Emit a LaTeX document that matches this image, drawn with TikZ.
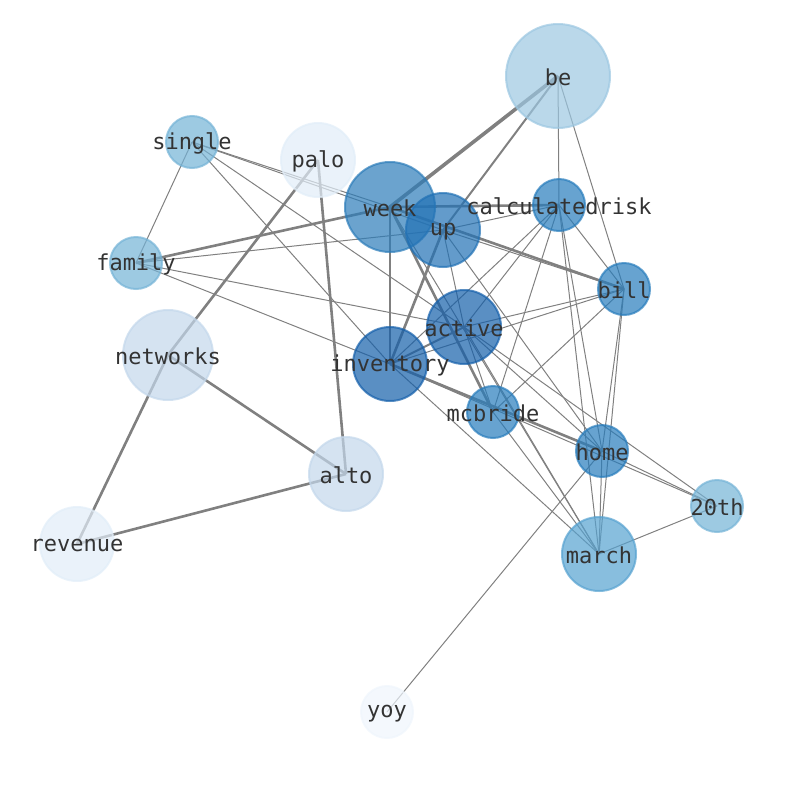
\documentclass[tikz,border=0pt]{standalone}
\usepackage{fontspec}
\setmainfont{DejaVu Sans Mono}
\pgfdeclarelayer{bg}
\pgfsetlayers{bg,main}
\definecolor{cBe}{RGB}{156,199,225}
\definecolor{cWeek}{RGB}{44,124,185}
\definecolor{cUp}{RGB}{33,113,181}
\definecolor{cAct}{RGB}{20,95,170}
\definecolor{cMid}{RGB}{39,124,188}
\definecolor{cMarch}{RGB}{86,162,208}
\definecolor{cSmall}{RGB}{116,179,214}
\definecolor{cNet}{RGB}{195,215,235}
\definecolor{cPalo}{RGB}{225,237,248}
\definecolor{cYoy}{RGB}{239,245,252}
\definecolor{edgegray}{RGB}{128,128,128}
\definecolor{labgray}{RGB}{51,51,51}
\tikzset{
  vtx/.style={circle, inner sep=0pt, fill opacity=0.7, draw opacity=0.7, line width=2pt},
  lab/.style={text=labgray, inner sep=0pt, yshift=-1.5pt, font=\fontsize{22}{26}\selectfont},
  ea/.style={draw=edgegray, line width=1pt},
  eb/.style={draw=edgegray, line width=2pt},
  ec/.style={draw=edgegray, line width=2.6pt},
  ed/.style={draw=edgegray, line width=3.6pt}
}
\begin{document}
\begin{tikzpicture}[x=1pt,y=-1pt]
\useasboundingbox (0,0) rectangle (794,790);
% nodes
\node[vtx, fill=cBe, draw=cBe, minimum size=104pt] (be) at (558,76) {};
\node[vtx, fill=cSmall, draw=cSmall, minimum size=52pt] (single) at (192,142) {};
\node[vtx, fill=cPalo, draw=cPalo, minimum size=74pt] (palo) at (318,160) {};
\node[vtx, fill=cWeek, draw=cWeek, minimum size=90pt] (week) at (390,207) {};
\node[vtx, fill=cUp, draw=cUp, minimum size=74pt] (up) at (443,230) {};
\node[vtx, fill=cMid, draw=cMid, minimum size=52pt] (calc) at (559,205) {};
\node[vtx, fill=cSmall, draw=cSmall, minimum size=52pt] (family) at (136,263) {};
\node[vtx, fill=cMid, draw=cMid, minimum size=52pt] (bill) at (624,289) {};
\node[vtx, fill=cAct, draw=cAct, minimum size=74pt] (active) at (464,327) {};
\node[vtx, fill=cNet, draw=cNet, minimum size=90pt] (networks) at (168,355) {};
\node[vtx, fill=cAct, draw=cAct, minimum size=74pt] (inventory) at (390,364) {};
\node[vtx, fill=cMid, draw=cMid, minimum size=52pt] (mcbride) at (493,412) {};
\node[vtx, fill=cMid, draw=cMid, minimum size=52pt] (home) at (602,451) {};
\node[vtx, fill=cNet, draw=cNet, minimum size=74pt] (alto) at (346,474) {};
\node[vtx, fill=cSmall, draw=cSmall, minimum size=52pt] (twentieth) at (717,506) {};
\node[vtx, fill=cMarch, draw=cMarch, minimum size=74pt] (march) at (599,554) {};
\node[vtx, fill=cPalo, draw=cPalo, minimum size=74pt] (revenue) at (77,544) {};
\node[vtx, fill=cYoy, draw=cYoy, minimum size=52pt] (yoy) at (387,712) {};
% labels
\node[lab] (be-l) at (be) {be};
\node[lab] (single-l) at (single) {single};
\node[lab] (palo-l) at (palo) {palo};
\node[lab] (week-l) at (week) {week};
\node[lab] (up-l) at (up) {up};
\node[lab] (calc-l) at (calc) {calculatedrisk};
\node[lab] (family-l) at (family) {family};
\node[lab] (bill-l) at (bill) {bill};
\node[lab] (active-l) at (active) {active};
\node[lab] (networks-l) at (networks) {networks};
\node[lab] (inventory-l) at (inventory) {inventory};
\node[lab] (mcbride-l) at (mcbride) {mcbride};
\node[lab] (home-l) at (home) {home};
\node[lab] (alto-l) at (alto) {alto};
\node[lab] (twentieth-l) at (twentieth) {20th};
\node[lab] (march-l) at (march) {march};
\node[lab] (revenue-l) at (revenue) {revenue};
\node[lab] (yoy-l) at (yoy) {yoy};
% edges
\begin{pgfonlayer}{bg}
\draw[ed] (be.center) -- (week.center);
\draw[eb] (be.center) -- (up.center);
\draw[ea] (be.center) -- (calc.center);
\draw[ea] (be.center) -- (bill.center);
\draw[ea] (single.center) -- (family.center);
\draw[ea] (single.center) -- (week.center);
\draw[ea] (single.center) -- (up.center);
\draw[ea] (single.center) -- (inventory.center);
\draw[ea] (single.center) -- (active.center);
\draw[ec] (family.center) -- (week.center);
\draw[ea] (family.center) -- (up.center);
\draw[ea] (family.center) -- (active.center);
\draw[ea] (family.center) -- (inventory.center);
\draw[ec] (palo.center) -- (networks.center);
\draw[ec] (palo.center) -- (alto.center);
\draw[ec] (networks.center) -- (revenue.center);
\draw[ec] (networks.center) -- (alto.center);
\draw[ec] (alto.center) -- (revenue.center);
\draw[ec] (week.center) -- (calc.center);
\draw[eb] (week.center) -- (inventory.center);
\draw[ec] (week.center) -- (mcbride.center);
\draw[ec] (week.center) -- (bill.center);
\draw[ea] (week.center) -- (march.center);
\draw[ea] (up.center) -- (bill.center);
\draw[ec] (up.center) -- (inventory.center);
\draw[ea] (up.center) -- (calc.center);
\draw[ea] (up.center) -- (home.center);
\draw[ea] (up.center) -- (active.center);
\draw[ea] (calc.center) -- (active.center);
\draw[ea] (calc.center) -- (inventory.center);
\draw[ea] (calc.center) -- (mcbride.center);
\draw[ea] (calc.center) -- (home.center);
\draw[ea] (calc.center) -- (bill.center);
\draw[ea] (calc.center) -- (march.center);
\draw[ea] (bill.center) -- (active.center);
\draw[ea] (bill.center) -- (inventory.center);
\draw[ea] (bill.center) -- (mcbride.center);
\draw[ea] (bill.center) -- (home.center);
\draw[ea] (bill.center) -- (march.center);
\draw[eb] (active.center) -- (inventory.center);
\draw[ea] (active.center) -- (mcbride.center);
\draw[ea] (active.center) -- (home.center);
\draw[ea] (active.center) -- (twentieth.center);
\draw[ea] (active.center) -- (march.center);
\draw[ec] (inventory.center) -- (home.center);
\draw[ea] (inventory.center) -- (twentieth.center);
\draw[ea] (inventory.center) -- (march.center);
\draw[ea] (mcbride.center) -- (march.center);
\draw[ea] (home.center) -- (twentieth.center);
\draw[ea] (home.center) -- (march.center);
\draw[ea] (home.center) -- (yoy.center);
\draw[ea] (march.center) -- (twentieth.center);
\end{pgfonlayer}
\end{tikzpicture}
\end{document}
